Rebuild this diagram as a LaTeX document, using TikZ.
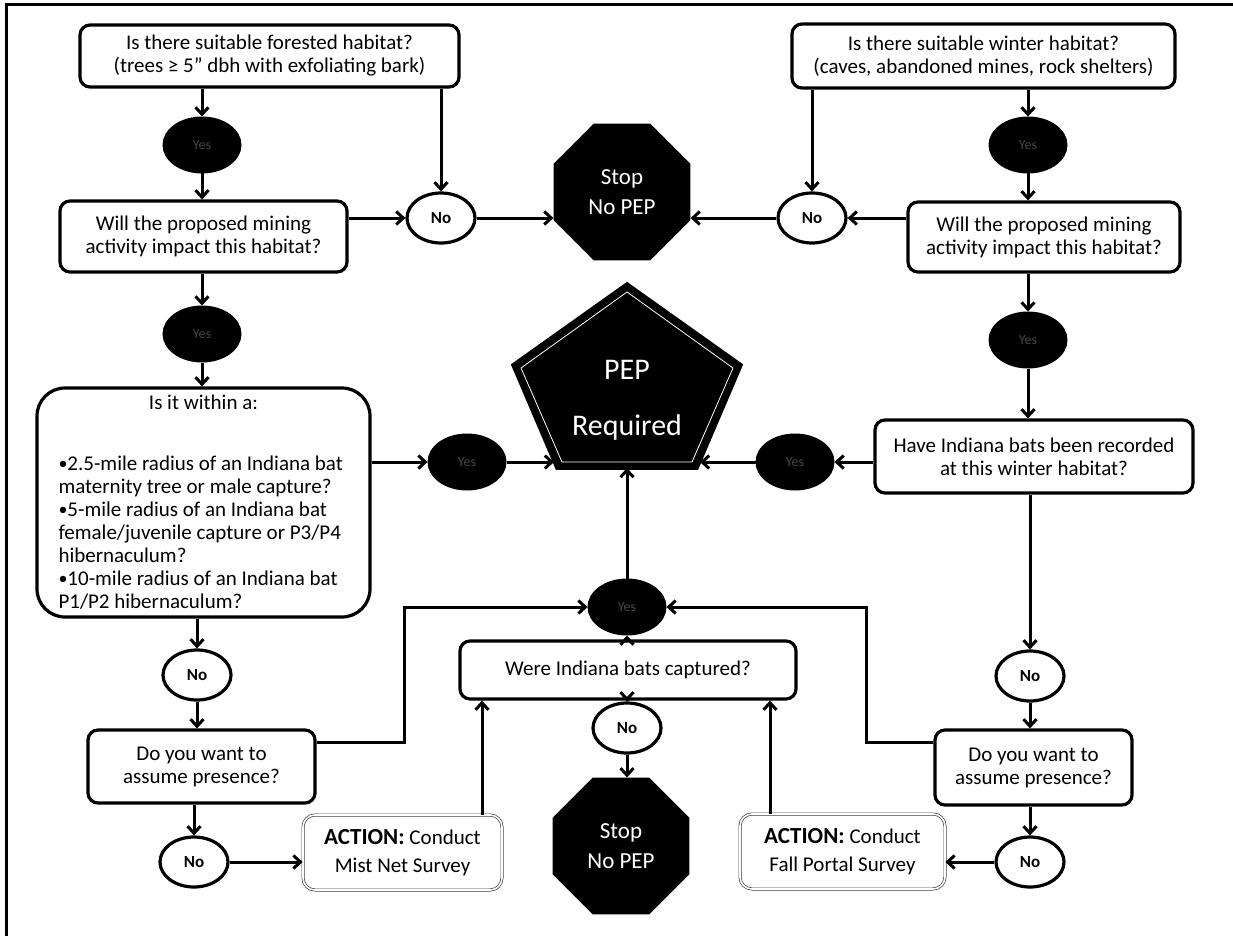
\documentclass[tikz,border=0pt]{standalone}
\usepackage{fontspec}
\setmainfont{Carlito}
\usetikzlibrary{shapes.geometric,arrows.meta,calc}
\newcommand{\bul}{\raisebox{1.2pt}{\fontsize{18}{18}\selectfont •}}
\tikzset{
  box/.style={draw, line width=3.2pt, rounded corners=10pt, fill=white, align=center, inner sep=0pt, font=\fontsize{21}{23}\selectfont},
  action/.style={draw=black!75, double=white, double distance=1.6pt, line width=0.7pt, rounded corners=12pt, fill=white, align=center, inner sep=0pt, font=\fontsize{21}{28}\selectfont},
  noel/.style={ellipse, draw, line width=3.2pt, fill=white, minimum width=68pt, minimum height=50pt, inner sep=0pt, font=\bfseries\fontsize{17}{17}\selectfont},
  yesel/.style={ellipse, draw, line width=3pt, fill=black, minimum width=76pt, minimum height=54pt, inner sep=0pt, text=black!72, font=\fontsize{14}{14}\selectfont},
  octo/.style={regular polygon, regular polygon sides=8, minimum size=148pt, fill=black, text=white, inner sep=0pt, align=center, font=\fontsize{23}{30}\selectfont},
  arr/.style={line width=3pt, -{Straight Barb[length=7pt,width=13pt]}},
}
\begin{document}
\begin{tikzpicture}[x=1pt,y=-1pt]
\useasboundingbox (0,0) rectangle (1233,936);
\draw[line width=3pt] (6,936) -- (6,5) -- (1233,5);

% left column
\node[box, minimum width=379pt, minimum height=62pt] (q1) at (269.5,56) {Is there suitable forested habitat?\\(trees ≥ 5” dbh with exfoliating bark)};
\node[yesel] (y1) at (202,145) {Yes};
\node[box, minimum width=287pt, minimum height=71pt] (q2) at (203.5,236.5) {Will the proposed mining\\activity impact this habitat?};
\node[noel] (no1) at (441,218) {No};
\node[octo] (stop1) at (622,192) {Stop\\No PEP};

% right column
\node[box, minimum width=383pt, minimum height=64pt] (q1r) at (983.5,56) {Is there suitable winter habitat?\\(caves, abandoned mines, rock shelters)};
\node[yesel] (y1r) at (1028,145) {Yes};
\node[box, minimum width=272pt, minimum height=70pt] (q2r) at (1044,237) {Will the proposed mining\\activity impact this habitat?};
\node[noel] (nor) at (812,218) {No};

\node[yesel] (y2) at (202,334) {Yes};
\node[box, rounded corners=28pt, minimum width=333pt, minimum height=229pt] (big) at (203.5,502.5) {\parbox{290pt}{\centering Is it within a:\par\vspace{38pt}\raggedright \bul2.5-mile radius of an Indiana bat\\maternity tree or male capture?\\\bul5-mile radius of an Indiana bat\\female/juvenile capture or P3/P4\\hibernaculum?\\\bul10-mile radius of an Indiana bat\\P1/P2 hibernaculum?\par}};

\node[yesel] (y2r) at (1028,340) {Yes};
\node[box, minimum width=318pt, minimum height=73pt] (q3r) at (1034,456.5) {Have Indiana bats been recorded\\at this winter habitat?};

% pentagon
\fill[black] (627,284) -- (741,365) -- (697,468) -- (557,468) -- (513,365) -- cycle;
\draw[line width=3.5pt] (627,284) -- (741,365) -- (697,468) -- (557,468) -- (513,365) -- cycle;
\draw[white, line width=0.8pt] (627,292) -- (733,368) -- (692,462) -- (562,462) -- (521,368) -- cycle;
\node[text=white, align=center, font=\fontsize{30}{56}\selectfont] (pep) at (627,400) {PEP\\Required};
\coordinate (pl) at (554,462);
\coordinate (pr) at (700,462);
\coordinate (pb) at (627,468);

\node[yesel] (ym1) at (467,462) {Yes};
\node[yesel] (ym2) at (795,462) {Yes};

% bottom part
\node[yesel] (yb) at (627,607) {Yes};
\node[box, minimum width=336pt, minimum height=58pt] (were) at (628,670) {Were Indiana bats captured?};
\node[noel] (nob) at (627,728) {No};
\node[octo] (stop2) at (621,846) {Stop\\No PEP};

\node[noel] (nol) at (197,675) {No};
\node[box, minimum width=227pt, minimum height=73pt] (dl) at (201.5,766.5) {Do you want to\\assume presence?};
\node[noel] (nol2) at (194,862) {No};
\node[action, minimum width=199pt, minimum height=75pt] (mist) at (402.5,852.5) {{\fontsize{23}{28}\selectfont\textbf{ACTION:}} Conduct\\Mist Net Survey};

\node[noel] (nor1) at (1030,676) {No};
\node[box, minimum width=197pt, minimum height=75pt] (dr) at (1033.5,767.5) {Do you want to\\assume presence?};
\node[noel] (nor2) at (1030,862) {No};
\node[action, minimum width=205pt, minimum height=75pt] (fall) at (842.5,851.5) {{\fontsize{23}{28}\selectfont\textbf{ACTION:}} Conduct\\Fall Portal Survey};

\coordinate (mx) at (482,0);
\coordinate (fx) at (770,0);
\coordinate (bl) at (404,0);
\coordinate (br) at (866,0);

% connectors
\draw[arr] (q1.south -| y1) -- (y1.north);
\draw[arr] (y1.south) -- (y1.south |- q2.north);
\draw[arr] (q1.south -| no1) -- (no1.north);
\draw[arr] (no1 -| q2.east) -- (no1.west);
\draw[arr] (no1.east) -- (no1 -| stop1.west);

\draw[arr] (q1r.south -| nor) -- (nor.north);
\draw[arr] (q1r.south -| y1r) -- (y1r.north);
\draw[arr] (y1r.south) -- (y1r.south |- q2r.north);
\draw[arr] (nor -| q2r.west) -- (nor.east);
\draw[arr] (nor.west) -- (nor -| stop1.east);

\draw[arr] (q2.south -| y2) -- (y2.north);
\draw[arr] (y2.south) -- (y2.south |- big.north);
\draw[arr] (q2r.south -| y2r) -- (y2r.north);
\draw[arr] (y2r.south) -- (y2r.south |- q3r.north);

\draw[arr] (ym1 -| big.east) -- (ym1.west);
\draw[arr] (ym1.east) -- (pl);
\draw[arr] (ym2 -| q3r.west) -- (ym2.east);
\draw[arr] (ym2.west) -- (pr);

\draw[arr] (big.south -| nol) -- (nol.north);
\draw[arr] (nol.south) -- (nol.south |- dl.north);
\draw[arr] (dl.south -| nol2) -- (nol2.north);
\draw[arr] (nol2.east) -- (nol2 -| mist.west);

\draw[arr] (q3r.south -| nor1) -- (nor1.north);
\draw[arr] (nor1.south) -- (nor1.south |- dr.north);
\draw[arr] (dr.south -| nor2) -- (nor2.north);
\draw[arr] (nor2.west) -- (nor2 -| fall.east);

\draw[arr] (mist.north -| mx) -- (were.south -| mx);
\draw[arr] (fall.north -| fx) -- (were.south -| fx);

\draw[arr] (were.north -| yb) -- (yb.south);
\draw[arr] (yb.north) -- (pb);
\draw[arr] (were.south -| nob) -- (nob.north);
\draw[arr] (nob.south) -- (nob.south |- stop2.north);

\draw[arr] ([yshift=24pt]dl.east) -| (bl |- yb) -- (yb.west);
\draw[arr] ([yshift=25pt]dr.west) -| (br |- yb) -- (yb.east);
\end{tikzpicture}
\end{document}
